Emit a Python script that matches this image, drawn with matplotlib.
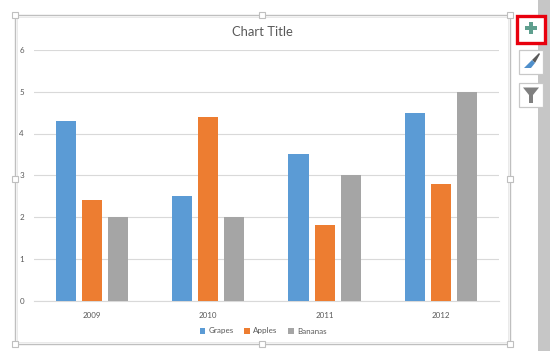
import numpy as np
import matplotlib
matplotlib.use('Agg')
import matplotlib.pyplot as plt
from matplotlib.patches import Rectangle, Polygon

years = ['2009', '2010', '2011', '2012']
grapes = [4.3, 2.5, 3.5, 4.5]
apples = [2.4, 4.4, 1.8, 2.8]
bananas = [2, 2, 3, 5]
series_names = ['Grapes', 'Apples', 'Bananas']
colors = ['#5B9BD5', '#ED7D31', '#A5A5A5']

W, H = 550, 351
plt.rcParams['font.family'] = ['Lato', 'DejaVu Sans']

fig = plt.figure(figsize=(W/100, H/100), dpi=100, facecolor='white')

# chart area
ax = fig.add_axes([33.8/W, 1-300.5/H, 465.2/W, 250.5/H])
x = np.arange(len(years))
bar_w = 0.172
off = 0.224
for i, vals in enumerate([grapes, apples, bananas]):
    ax.bar(x+(i-1)*off, vals, bar_w, color=colors[i], label=series_names[i], zorder=3)

ax.set_xlim(-0.5, 3.5)
ax.set_ylim(0, 6)
ax.set_yticks(range(7))
ax.set_xticks(x)
ax.set_xticklabels(years)
ax.grid(axis='y', color='#D9D9D9', lw=0.8, zorder=0)
ax.tick_params(length=0, labelsize=5.8, labelcolor='#595959', pad=8)
ax.tick_params(axis='y', pad=7)
for s in ['top', 'right', 'left']:
    ax.spines[s].set_visible(False)
ax.spines['bottom'].set_color('#D9D9D9')
ax.spines['bottom'].set_linewidth(0.8)
ax.patch.set_alpha(0)

# powerpoint frame and buttons, in pixel coords
ov = fig.add_axes([0, 0, 1, 1], zorder=-1)
ov.set_xlim(0, W)
ov.set_ylim(H, 0)
ov.axis('off')
ov2 = fig.add_axes([0, 0, 1, 1], zorder=5)
ov2.set_xlim(0, W)
ov2.set_ylim(H, 0)
ov2.axis('off')
ov2.patch.set_alpha(0)

ov.add_patch(Rectangle((538, 0), 12, H, fc='#C6C6C6', ec='none'))
ov2.add_patch(Rectangle((15, 15), 494.5, 328.5, fc='none', ec='#BFBFBF', lw=1.0))
ov2.add_patch(Rectangle((17, 17), 490.5, 324.5, fc='none', ec='#E6E6E6', lw=0.6))
for hx, hy in [(15, 15), (262, 15), (509.5, 15), (15, 179), (509.5, 179), (15, 343.5), (262, 343.5), (509.5, 343.5)]:
    ov2.add_patch(Rectangle((hx-3, hy-3), 6, 6, fc='white', ec='#BFBFBF', lw=0.8, zorder=4))

# plus button
ov2.add_patch(Rectangle((516.5, 15.5), 28.5, 27.5, fc='white', ec='#E8000D', lw=2.4))
ov2.add_patch(Rectangle((525, 26), 12, 4, fc='#5F9F8E', ec='none'))
ov2.add_patch(Rectangle((529, 22), 4, 12, fc='#5F9F8E', ec='none'))
# brush button
ov2.add_patch(Rectangle((518.5, 49.5), 24.5, 24, fc='white', ec='#C8C8C8', lw=0.9))
ov2.add_patch(Polygon([(532, 60), (539, 53), (540, 54), (535, 63)], fc='#5A5A5A', ec='none'))
ov2.add_patch(Polygon([(524, 68), (532, 60), (535, 63), (531, 68)], fc='#4F8FCB', ec='none'))
# filter button
ov2.add_patch(Rectangle((518.5, 82.5), 24.5, 24, fc='white', ec='#C8C8C8', lw=0.9))
ov2.add_patch(Polygon([(523, 87.5), (539, 87.5), (533, 95), (533, 103), (529, 103), (529, 95)],
                      fc='#808080', ec='none'))

fig.text(262/W, 1-31.5/H, 'Chart Title', ha='center', va='center', fontsize=9.4, color='#595959')

leg = ax.legend(loc='center', bbox_to_anchor=((263-33.8)/465.2, (300.5-331)/250.5), ncol=3, frameon=False,
                fontsize=5.8, handlelength=0.7, handleheight=0.7, handletextpad=0.4, columnspacing=1.3,
                labelcolor='#595959', borderpad=0)

fig.savefig('out.png', dpi=100)
